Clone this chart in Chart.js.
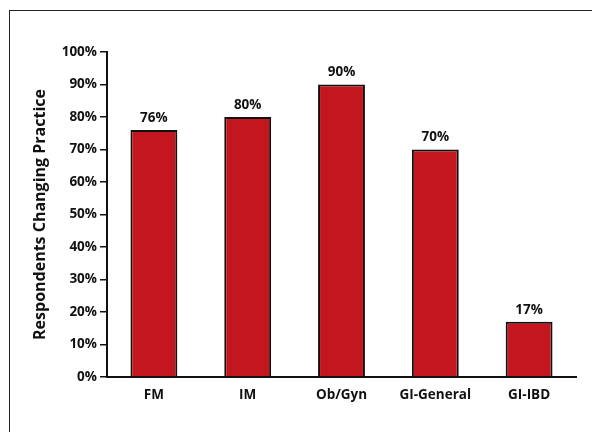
<!DOCTYPE html>
<html lang="en">
<head>
    <meta charset="UTF-8">
    <title>Respondents Changing Practice</title>
    <script src="https://cdn.jsdelivr.net/npm/chart.js"></script>
    <style>
        html, body { margin: 0; padding: 0; background: #fff; overflow: hidden; }
        .frame { position: absolute; left: 9px; top: 10px; width: 600px; height: 440px; border: 1.5px solid #222; box-sizing: border-box; }
        .chart-container { position: absolute; left: 0; top: 0; width: 592px; height: 432px; }
    </style>
</head>
<body>
    <div class="frame"></div>
    <div class="chart-container">
        <canvas id="practiceChart"></canvas>
    </div>
    <script>
        const categories = ['FM', 'IM', 'Ob/Gyn', 'GI-General', 'GI-IBD'];
        const changingPractice = [76, 80, 90, 70, 17];
        const yTicks = [0, 10, 20, 30, 40, 50, 60, 70, 80, 90, 100];

        const fontFamily = '"Open Sans", "Noto Sans", sans-serif';

        // value labels above each bar
        const barLabels = {
            id: 'barLabels',
            afterDatasetsDraw(chart) {
                const ctx = chart.ctx;
                const meta = chart.getDatasetMeta(0);
                ctx.save();
                ctx.fillStyle = '#111';
                ctx.font = 'bold 13.5px ' + fontFamily;
                ctx.textAlign = 'center';
                ctx.textBaseline = 'middle';
                meta.data.forEach((bar, i) => {
                    ctx.fillText(changingPractice[i] + '%', bar.x, bar.y - 12);
                });
                ctx.restore();
            }
        };

        new Chart(document.getElementById('practiceChart'), {
            type: 'bar',
            data: {
                labels: categories,
                datasets: [{
                    data: changingPractice,
                    backgroundColor: '#c4161e',
                    borderColor: '#111',
                    borderWidth: 2,
                    borderSkipped: 'bottom',
                    categoryPercentage: 1.0,
                    barPercentage: 0.5
                }]
            },
            options: {
                responsive: true,
                maintainAspectRatio: false,
                animation: false,
                layout: { padding: { top: 52, right: 16, left: 0, bottom: 0 } },
                plugins: {
                    legend: { display: false },
                    tooltip: { enabled: false }
                },
                scales: {
                    x: {
                        grid: { display: false },
                        border: { color: '#111', width: 2 },
                        ticks: {
                            color: '#111',
                            padding: 2,
                            font: { family: fontFamily, size: 13.5, weight: 'bold' }
                        },
                        afterFit: s => { s.height = 55; }
                    },
                    y: {
                        min: 0,
                        max: 100,
                        afterBuildTicks: s => { s.ticks = yTicks.map(v => ({ value: v })); },
                        grid: {
                            drawOnChartArea: false,
                            drawTicks: true,
                            tickLength: 7,
                            color: '#111',
                            lineWidth: 1.5
                        },
                        border: { color: '#111', width: 2 },
                        ticks: {
                            color: '#111',
                            padding: 3,
                            callback: v => v + '%',
                            font: { family: fontFamily, size: 13.5, weight: 'bold' }
                        },
                        title: {
                            display: true,
                            text: 'Respondents Changing Practice',
                            color: '#111',
                            padding: { top: 31, bottom: 0 },
                            font: { family: fontFamily, size: 16, weight: 'bold' }
                        },
                        afterFit: s => { s.width = 107; }
                    }
                }
            },
            plugins: [barLabels]
        });
    </script>
</body>
</html>
